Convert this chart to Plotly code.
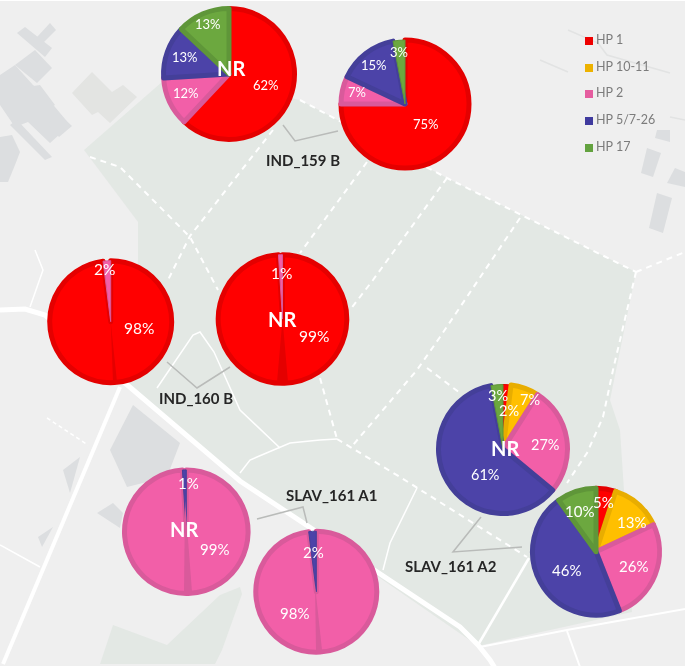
"""Haplotype pies per plot, drawn over a pale map of the field site."""
import plotly.graph_objects as go

WIDTH = 685
HEIGHT = 668

# ---------------------------------------------------------------------------
# Data
# ---------------------------------------------------------------------------
HP_LABELS = ["HP 1", "HP 10-11", "HP 2", "HP 5/7-26", "HP 17"]

ind_159_nr = [62, 0, 12, 13, 13]
ind_159 = [75, 0, 7, 15, 3]
ind_160 = [98, 0, 2, 0, 0]
ind_160_nr = [99, 0, 1, 0, 0]
slav_a1_nr = [0, 0, 99, 1, 0]
slav_a1 = [0, 0, 98, 2, 0]
slav_a2_nr = [2, 7, 27, 61, 3]
slav_a2 = [5, 13, 26, 46, 10]

SITE_NAMES = ["IND_159 B", "IND_160 B", "SLAV_161 A1", "SLAV_161 A2"]

# ---------------------------------------------------------------------------
# Styles and layout
# ---------------------------------------------------------------------------
FILL = ["#ff0000", "#ffbf00", "#f25fa8", "#4c43a8", "#6ca83f"]
RIM = ["#e40000", "#e8ad00", "#d95a9b", "#443f99", "#5f9639"]
SWATCH = ["#ee0000", "#edb200", "#e55d9f", "#3f3a9e", "#63a23f"]
RIM_W = 5
THIN_RIM_W = 1
FONT = "Lato"

# values, centre x, centre y, radius, label size, "NR" position
# label positions follow the order of HP_LABELS, skipping empty slices
PIES = [
    (ind_159_nr, 229, 74, 68, 13, (231, 68),
     [(266, 85), (186, 93), (185, 57), (208, 24)]),
    (ind_159, 405, 104, 66.5, 13, None,
     [(426, 124), (357, 92), (374, 65), (399, 52)]),
    (ind_160, 110.7, 321.7, 63.5, 15.5, None,
     [(139, 328), (104, 269)]),
    (ind_160_nr, 282.5, 319, 66.8, 15.5, (282, 319),
     [(314, 336), (281, 273)]),
    (slav_a1_nr, 186.3, 531.7, 64.3, 15, (184, 529),
     [(214, 549), (188, 483)]),
    (slav_a1, 316.3, 591.7, 63, 15, None,
     [(294, 613), (313, 552)]),
    (slav_a2_nr, 503, 449, 67, 14.5, (505, 448),
     [(509, 410), (530, 399), (545, 444), (485, 474), (498, 395)]),
    (slav_a2, 596, 551.7, 66, 15, None,
     [(603, 502), (631, 522), (633, 566), (566, 570), (579, 511)]),
]

SITE_LABEL_POS = [(303, 160), (196, 398), (331, 495), (451, 566)]

WEDGES = [
    ("#e40000", [(110.7, 321.7), (113, 382), (117, 382)]),
    ("#e40000", [(282.5, 319), (277, 382), (288, 382)]),
    ("#d95a9b", [(185, 500), (184, 592), (192, 592)]),
    ("#d95a9b", [(315, 585), (316, 650), (322, 650)]),
]

# ---------------------------------------------------------------------------
# Map background (pixel coordinates)
# ---------------------------------------------------------------------------
BG = "#efefef"
GREEN = "#e3e8e4"
BUILDING = "#dcdee0"

GREEN_AREAS = [
    [(84, 150), (170, 75), (300, 100), (447, 178), (636, 272), (610, 400), (620, 430),
     (632, 612), (478, 646), (240, 481), (125, 383), (138, 260), (138, 222)],
    [(100, 664), (113, 625), (167, 645), (220, 595), (240, 587), (242, 594), (222, 650), (215, 664)],
]

BUILDINGS = [
    [(17, 33), (25, 27), (52, 48), (45, 57)],
    [(50, 23), (56, 30), (43, 43), (37, 37)],
    [(15, 65), (35, 50), (52, 68), (37, 83)],
    [(0, 75), (15, 65), (33, 85), (45, 95), (70, 125), (50, 143), (28, 122), (15, 127), (0, 105)],
    [(20, 88), (40, 85), (55, 105), (35, 115)],
    [(58, 113), (72, 126), (59, 137), (48, 124)],
    [(17, 120), (52, 157), (45, 160), (10, 125)],
    [(0, 137), (12, 135), (20, 152), (15, 165), (8, 182), (0, 182)],
    [(133, 405), (180, 443), (167, 477), (127, 487), (110, 450)],
    [(97, 513), (113, 503), (123, 513), (120, 528)],
    [(647, 148), (661, 153), (653, 177), (641, 173)],
    [(657, 193), (672, 198), (663, 233), (649, 228)],
    [(657, 130), (670, 130), (670, 142), (655, 138)],
    [(667, 183), (675, 168), (685, 172), (685, 187)],
    [(38, 537), (53, 527), (42, 547)],
    [(63, 470), (80, 457), (70, 493)],
]
PALE_BLOCK = [(72, 93), (92, 72), (112, 92), (123, 85), (137, 97), (110, 123), (98, 112), (92, 115)]

ROADS = [
    (5, [(0, 310), (25, 309), (45, 315), (125, 383), (240, 481), (460, 627), (478, 645), (490, 660), (495, 668)]),
    (4, [(120, 387), (3, 664)]),
    (2.5, [(478, 645), (529, 558)]),
    (2, [(480, 647), (567, 630), (685, 609)]),
    (2, [(567, 631), (580, 667)]),
    (1.5, [(0, 545), (40, 567)]),
    (1.5, [(35, 250), (43, 270), (30, 307)]),
    (1.5, [(157, 388), (193, 335), (200, 332), (214, 352), (240, 410), (280, 448)]),
    (1.5, [(240, 473), (250, 460), (290, 443), (320, 440), (337, 439)]),
    (1.5, [(417, 488), (390, 543), (383, 570)]),
]

DASHED = [
    [(300, 100), (447, 178), (636, 272)],
    [(636, 272), (685, 252)],
    [(636, 272), (613, 370), (603, 417), (587, 453), (567, 483)],
    [(520, 218), (440, 337), (417, 370), (353, 445)],
    [(447, 178), (373, 280), (350, 310)],
    [(320, 378), (337, 439)],
    [(367, 162), (300, 253)],
    [(273, 130), (190, 236), (168, 280)],
    [(90, 157), (120, 167), (190, 237), (218, 290)],
    [(337, 439), (400, 477), (527, 557)],
    [(427, 368), (460, 393)],
]
FAINT_LINES = [
    [(568, 30), (598, 43), (607, 55), (670, 73)],
    [(540, 60), (568, 72)],
    [(670, 117), (685, 120)],
]
CONNECTORS = [
    [(283, 125), (295, 141), (338, 131)],
    [(167, 362), (197, 388), (230, 367)],
    [(257, 519), (303, 507), (307, 523)],
    [(481, 517), (453, 552), (522, 547)],
]


def _path(points, closed=False):
    d = "M" + "L".join(f"{x},{y}" for x, y in points)
    return d + "Z" if closed else d


def _area(points, color):
    return dict(type="path", path=_path(points, closed=True), xref="x", yref="y",
                fillcolor=color, line_width=0, layer="below")


def _line(points, color, width, dash="solid", layer="below"):
    return dict(type="path", path=_path(points), xref="x", yref="y",
                line=dict(color=color, width=width, dash=dash), layer=layer)


shapes = [dict(type="rect", x0=0, x1=WIDTH, y0=1, y1=HEIGHT - 2, xref="x", yref="y",
               fillcolor=BG, line_width=0, layer="below")]
shapes += [_area(p, GREEN) for p in GREEN_AREAS]
shapes += [_area(p, BUILDING) for p in BUILDINGS]
shapes.append(_area(PALE_BLOCK, "#e3e4e2"))
shapes += [_line(p, "#e2e3e3", 1.5) for p in FAINT_LINES]
shapes += [_line(p, "#ffffff", w) for w, p in ROADS]
shapes += [_line(p, "#ffffff", 2, dash="6px,5px") for p in DASHED]
shapes.append(_line([(47, 418), (88, 445)], "#ffffff", 1.5, dash="4px,3px"))
shapes += [_line(p, "#b9bbb9", 1.5, layer="above") for p in CONNECTORS]
shapes += [dict(type="path", path=_path(p, closed=True), xref="x", yref="y", fillcolor=c,
                line_width=0, layer="above") for c, p in WEDGES]

fig = go.Figure()

# Legend, drawn on the map's pixel axes so its rows keep the original spacing
legend_y = [41, 68, 94, 121, 148]
fig.add_trace(go.Scatter(
    x=[589] * len(HP_LABELS),
    y=legend_y,
    mode="markers",
    marker=dict(symbol="square", size=8, color=SWATCH),
    hoverinfo="skip",
    showlegend=False,
))
fig.add_trace(go.Scatter(
    x=[596] * len(HP_LABELS),
    y=legend_y,
    mode="text",
    text=HP_LABELS,
    textposition="middle right",
    textfont=dict(family=FONT, size=12.5, color="#7c7c7c"),
    hoverinfo="skip",
    showlegend=False,
))

annotations = []


def _note(x, y, text, size, color="#ffffff", bold=False):
    annotations.append(dict(
        x=x, y=y, xref="x", yref="y", text=f"<b>{text}</b>" if bold else text, showarrow=False,
        font=dict(family=FONT, size=size, color=color), xanchor="center", yanchor="middle",
    ))


for values, cx, cy, radius, label_size, nr_pos, label_pos in PIES:
    r = radius - RIM_W / 2
    # empty slices would still paint their outline, so they are left out
    kept = [i for i, v in enumerate(values) if v > 0]
    fig.add_trace(go.Pie(
        labels=[HP_LABELS[i] for i in kept],
        values=[values[i] for i in kept],
        sort=False,
        direction="clockwise",
        rotation=0,
        textinfo="none",
        hoverinfo="label+value",
        showlegend=False,
        marker=dict(colors=[FILL[i] for i in kept],
                    line=dict(color=[RIM[i] for i in kept],
                              width=[THIN_RIM_W if values[i] <= 3 else RIM_W for i in kept])),
        domain=dict(x=[(cx - r) / WIDTH, (cx + r) / WIDTH],
                    y=[1 - (cy + r) / HEIGHT, 1 - (cy - r) / HEIGHT]),
    ))
    for i, (x, y) in zip(kept, label_pos, strict=True):
        _note(x, y, f"{values[i]}%", label_size)
    if nr_pos:
        _note(nr_pos[0], nr_pos[1], "NR", 20, bold=True)

for name, (x, y) in zip(SITE_NAMES, SITE_LABEL_POS, strict=True):
    _note(x, y, name, 15, color="#262626", bold=True)

fig.update_layout(
    width=WIDTH,
    height=HEIGHT,
    margin=dict(l=0, r=0, t=0, b=0),
    paper_bgcolor="#ffffff",
    plot_bgcolor="rgba(0,0,0,0)",
    xaxis=dict(range=[0, WIDTH], visible=False, fixedrange=True),
    yaxis=dict(range=[HEIGHT, 0], visible=False, fixedrange=True),
    shapes=shapes,
    annotations=annotations,
)

fig.write_html("out.html", config={"displayModeBar": False},
               post_script="document.body.style.margin='0';document.body.style.overflow='hidden';"
                           "document.querySelector('.plotly-graph-div').style.filter='blur(0.5px)';")
